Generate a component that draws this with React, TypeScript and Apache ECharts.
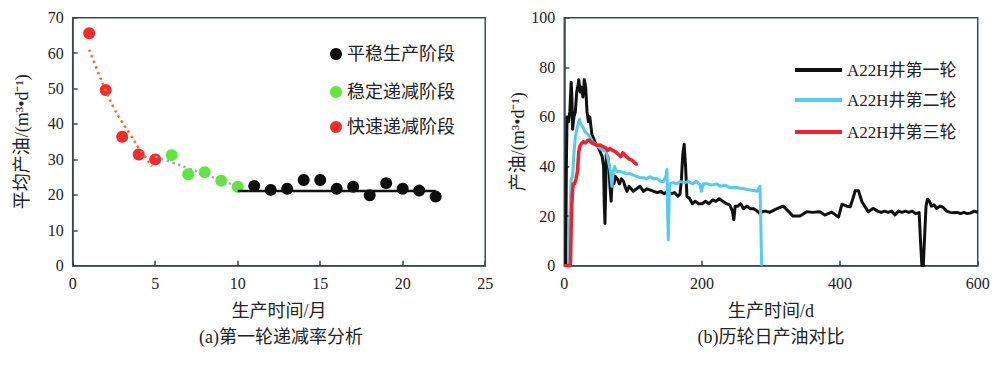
import React, { useEffect, useRef } from "react";
import * as echarts from "echarts";

const FONT = "'Liberation Serif', 'Noto Sans CJK SC', serif";
const AXIS_COLOR = "#3b4a52";
const TEXT_COLOR = "#222222";

// ---- Left chart (a): monthly average oil rate, first cycle ----
const fastMonths = [1, 2, 3, 4, 5];
const fastValues = [65.6, 49.6, 36.4, 31.4, 30.0];
const stableMonths = [6, 7, 8, 9, 10];
const stableValues = [31.2, 25.8, 26.4, 24.0, 22.3];
const plateauMonths = [11, 12, 13, 14, 15, 16, 17, 18, 19, 20, 21, 22];
const plateauValues = [22.5, 21.4, 21.7, 24.2, 24.2, 21.7, 22.3, 19.9, 23.3, 21.7, 21.2, 19.5];

const fastTrendX = [1, 1.5, 2, 2.5, 3, 3.5, 4, 4.4, 4.8];
const fastTrendY = [61, 55, 49.5, 44.5, 40.5, 37, 33.2, 30.7, 28];
const stableTrendX = [5, 6, 7, 8, 9, 10];
const stableTrendY = [30.8, 29.2, 27.5, 25.8, 24.1, 22.4];
const plateauTrendX = [10, 22];
const plateauTrendY = [21.1, 21.1];

const leftXTicks = { min: 0, max: 25, interval: 5 };
const leftYTicks = { min: 0, max: 70, interval: 10 };

// ---- Right chart (b): daily oil rate per cycle ----
const round1Days = [
  0, 2, 3, 4, 6, 8, 10, 11, 12, 14,
  16, 18, 20, 21, 23, 25, 27, 29, 31, 33,
  35, 37, 40, 43, 46, 49, 52, 55, 57, 58,
  59, 60, 61, 63, 65, 66, 68, 70, 72, 74,
  77, 80, 83, 86, 88, 91, 94, 97, 100, 105,
  110, 115, 120, 125, 130, 135, 140, 145, 150, 155,
  160, 165, 168, 170, 172, 174, 176, 178, 182, 186,
  190, 195, 200, 205, 210, 215, 220, 225, 230, 235,
  240, 244, 246, 248, 252, 256, 260, 265, 270, 275,
  280, 284, 287, 292, 298, 305, 313, 318, 325, 332,
  342, 352, 360, 371, 378, 388, 398, 403, 410, 415,
  420, 422, 427, 432, 441, 448, 455, 460, 465, 470,
  475, 480, 485, 490, 495, 500, 505, 510, 515, 517,
  519, 521, 523, 525, 527, 530, 533, 537, 540, 545,
  550, 555, 560, 564, 570, 575, 580, 585, 589, 595,
  600,
];
const round1Values = [
  0, 0, 40, 60, 58, 62, 74, 68, 55, 60,
  62, 70, 73, 75, 70, 72, 68, 75, 72, 62,
  58, 60, 53, 51, 49, 48, 46, 44, 40, 25,
  17, 30, 45, 44, 40, 33, 26, 38, 33, 36,
  35, 33, 35, 34, 32, 30, 32, 31, 30, 31,
  32, 30, 31, 30.5, 30, 29.5, 30, 29, 30, 29,
  29.5, 28, 29, 35, 45, 49, 40, 28, 27, 25,
  26, 25, 25, 26, 25, 26.5, 26, 27, 26, 25,
  24.5, 22, 18.5, 24, 24, 25, 23, 24, 23, 23,
  22, 21, 21.8, 22, 21.5, 22.5, 23.5, 24, 22, 20,
  20, 21.8, 21.5, 21.8, 20.4, 21.6, 19.6, 24.8, 24, 23.8,
  28, 30.2, 30.2, 25.8, 21.8, 23.1, 22, 21.5, 22, 21.5,
  22, 20.5, 22, 21.5, 22, 21.5, 22, 21, 21.4, 10,
  0, 0, 12, 24, 26.8, 26, 24, 24.5, 23.1, 24,
  23.5, 22, 21.5, 21.4, 21.5, 21, 21.5, 21, 21.2, 22,
  21.5,
];

const round2Days = [
  0, 6, 8, 10, 12, 14, 16, 18, 20, 22,
  24, 27, 30, 34, 37, 41, 45, 49, 53, 57,
  61, 64, 67, 69, 71, 73, 76, 81, 86, 90,
  95, 100, 105, 110, 115, 119, 124, 130, 134, 140,
  144, 148, 149, 150, 151, 152, 153, 158, 163, 168,
  175, 180, 186, 192, 197, 199, 202, 208, 214, 221,
  227, 233, 240, 250, 260, 270, 280, 284, 285, 286.4,
];
const round2Values = [
  0, 0, 20, 35, 36, 45, 52, 55, 57, 59,
  57, 56, 54, 53, 52, 50, 49, 48, 47, 46.5,
  46, 42, 38, 32, 38, 40, 38, 38, 37.5, 37,
  37.2, 36.5, 36, 35.5, 35.5, 35, 35.9, 35, 35.2, 34,
  34, 36.5, 38.9, 20, 10.4, 25, 33, 33.5, 33, 33.9,
  33.5, 34, 33, 34, 32.5, 30, 33, 33, 32.5, 33,
  32, 32.5, 31.5, 31.5, 31, 30.5, 30, 32, 20, 0,
];

const round3Days = [
  0, 8, 9, 10, 11, 12, 13, 15, 17, 19,
  21, 23, 25, 28, 31, 34, 36, 40, 44, 48,
  52, 56, 60, 63, 66, 70, 74, 78, 82, 85,
  87, 90, 94, 98, 102, 104, 106.5,
];
const round3Values = [
  0, 0, 1, 15, 25, 30, 33, 33, 35, 38,
  46, 48.5, 49.3, 50, 49.5, 50.5, 50.7, 49.5, 49, 48.5,
  48.7, 48, 47.5, 46.5, 47.3, 46.5, 46, 45, 44, 45.5,
  45, 44, 43, 42.6, 41.5, 41, 41.3,
];

const rightXTicks = { min: 0, max: 600, interval: 200 };
const rightYTicks = { min: 0, max: 100, interval: 20 };

const zip = (xs: number[], ys: number[]) => xs.map((x, i) => [x, ys[i]]);

function buildOption(): echarts.EChartsCoreOption {
  const lineStyle = { color: AXIS_COLOR, width: 1.5 };
  const labelStyle = { fontSize: 16, color: TEXT_COLOR, fontFamily: FONT };
  const nameStyle = { fontSize: 18, color: TEXT_COLOR, fontFamily: FONT };
  const baseAxis = {
    type: "value",
    axisLine: { show: true, onZero: false, lineStyle },
    axisTick: { show: true, inside: true, length: 5, lineStyle },
    splitLine: { show: false },
    nameLocation: "middle",
    nameTextStyle: nameStyle,
  };
  const legendText = { fontSize: 18, color: TEXT_COLOR, fontFamily: FONT, lineHeight: 20 };
  const mkScatterLegend = (name: string, top: number) => ({
    data: [name],
    orient: "vertical",
    left: 330,
    top,
    icon: "circle",
    itemWidth: 12,
    itemHeight: 12,
    padding: 0,
    selectedMode: false,
    textStyle: legendText,
  });
  const mkLineLegend = (name: string, top: number) => ({
    data: [name],
    orient: "vertical",
    left: 795,
    top,
    icon: "rect",
    itemWidth: 47,
    itemHeight: 4,
    padding: 0,
    selectedMode: false,
    textStyle: { ...legendText, fontSize: 17 },
  });

  return {
    animation: false,
    backgroundColor: "#ffffff",
    textStyle: { fontFamily: FONT },
    grid: [
      { left: 72.7, top: 17.7, width: 412.5, height: 248, show: true, borderColor: AXIS_COLOR, borderWidth: 1.5, backgroundColor: "transparent" },
      { left: 564.3, top: 17.7, width: 413.4, height: 248, show: true, borderColor: AXIS_COLOR, borderWidth: 1.5, backgroundColor: "transparent" },
    ],
    xAxis: [
      { ...baseAxis, gridIndex: 0, ...leftXTicks, name: "生产时间/月", nameGap: 36, axisLabel: { ...labelStyle, margin: 10 } },
      { ...baseAxis, gridIndex: 1, ...rightXTicks, name: "生产时间/d", nameGap: 36, axisLabel: { ...labelStyle, margin: 10 } },
    ],
    yAxis: [
      { ...baseAxis, gridIndex: 0, ...leftYTicks, name: "平均产油/(m³•d⁻¹)", nameGap: 42, axisLabel: { ...labelStyle, margin: 9 } },
      { ...baseAxis, gridIndex: 1, ...rightYTicks, name: "产油/(m³•d⁻¹)", nameGap: 36, axisLabel: { ...labelStyle, margin: 9 } },
    ],
    legend: [
      mkScatterLegend("平稳生产阶段", 44),
      mkScatterLegend("稳定递减阶段", 82),
      mkScatterLegend("快速递减阶段", 117),
      mkLineLegend("A22H井第一轮", 60),
      mkLineLegend("A22H井第二轮", 90),
      mkLineLegend("A22H井第三轮", 122),
    ],
    series: [
      {
        name: "fastTrend",
        type: "line",
        xAxisIndex: 0,
        yAxisIndex: 0,
        data: zip(fastTrendX, fastTrendY),
        smooth: true,
        showSymbol: false,
        lineStyle: { color: "#f0703a", width: 2.5, type: [2.5, 3.5] },
        silent: true,
      },
      {
        name: "stableTrend",
        type: "line",
        xAxisIndex: 0,
        yAxisIndex: 0,
        data: zip(stableTrendX, stableTrendY),
        smooth: true,
        showSymbol: false,
        lineStyle: { color: "#a4abb3", width: 2.5, type: [2.5, 3.5] },
        silent: true,
      },
      {
        name: "plateauTrend",
        type: "line",
        xAxisIndex: 0,
        yAxisIndex: 0,
        data: zip(plateauTrendX, plateauTrendY),
        showSymbol: false,
        lineStyle: { color: "#111111", width: 2.5 },
        silent: true,
      },
      {
        name: "平稳生产阶段",
        type: "scatter",
        xAxisIndex: 0,
        yAxisIndex: 0,
        data: zip(plateauMonths, plateauValues),
        symbolSize: 12,
        itemStyle: { color: "#0d0d0d", opacity: 1 },
      },
      {
        name: "稳定递减阶段",
        type: "scatter",
        xAxisIndex: 0,
        yAxisIndex: 0,
        data: zip(stableMonths, stableValues),
        symbolSize: 12,
        itemStyle: { color: "#5ee83a", opacity: 1 },
      },
      {
        name: "快速递减阶段",
        type: "scatter",
        xAxisIndex: 0,
        yAxisIndex: 0,
        data: zip(fastMonths, fastValues),
        symbolSize: 12,
        itemStyle: { color: "#f52a2a", opacity: 1 },
      },
      {
        name: "A22H井第一轮",
        type: "line",
        xAxisIndex: 1,
        yAxisIndex: 1,
        data: zip(round1Days, round1Values),
        showSymbol: false,
        itemStyle: { color: "#111111" },
        lineStyle: { color: "#111111", width: 3, join: "round" },
      },
      {
        name: "A22H井第二轮",
        type: "line",
        xAxisIndex: 1,
        yAxisIndex: 1,
        data: zip(round2Days, round2Values),
        showSymbol: false,
        itemStyle: { color: "#55cbf0" },
        lineStyle: { color: "#55cbf0", width: 3, join: "round" },
      },
      {
        name: "A22H井第三轮",
        type: "line",
        xAxisIndex: 1,
        yAxisIndex: 1,
        data: zip(round3Days, round3Values),
        showSymbol: false,
        itemStyle: { color: "#f2222a" },
        lineStyle: { color: "#f2222a", width: 3.5, join: "round" },
      },
    ],
    graphic: [
      {
        type: "text",
        x: 281,
        y: 337,
        style: { text: "(a)第一轮递减率分析", font: `18px ${FONT}`, fill: TEXT_COLOR, textAlign: "center", textVerticalAlign: "middle" },
      },
      {
        type: "text",
        x: 771,
        y: 337,
        style: { text: "(b)历轮日产油对比", font: `18px ${FONT}`, fill: TEXT_COLOR, textAlign: "center", textVerticalAlign: "middle" },
      },
    ],
  };
}

export default function App() {
  const ref = useRef<HTMLDivElement>(null);
  useEffect(() => {
    if (!ref.current) return;
    const chart = echarts.init(ref.current, undefined, { renderer: "svg" });
    chart.setOption(buildOption());
    return () => chart.dispose();
  }, []);
  return <div ref={ref} style={{ width: 1000, height: 369, position: "absolute", left: 0, top: 0, background: "#fff" }} />;
}
